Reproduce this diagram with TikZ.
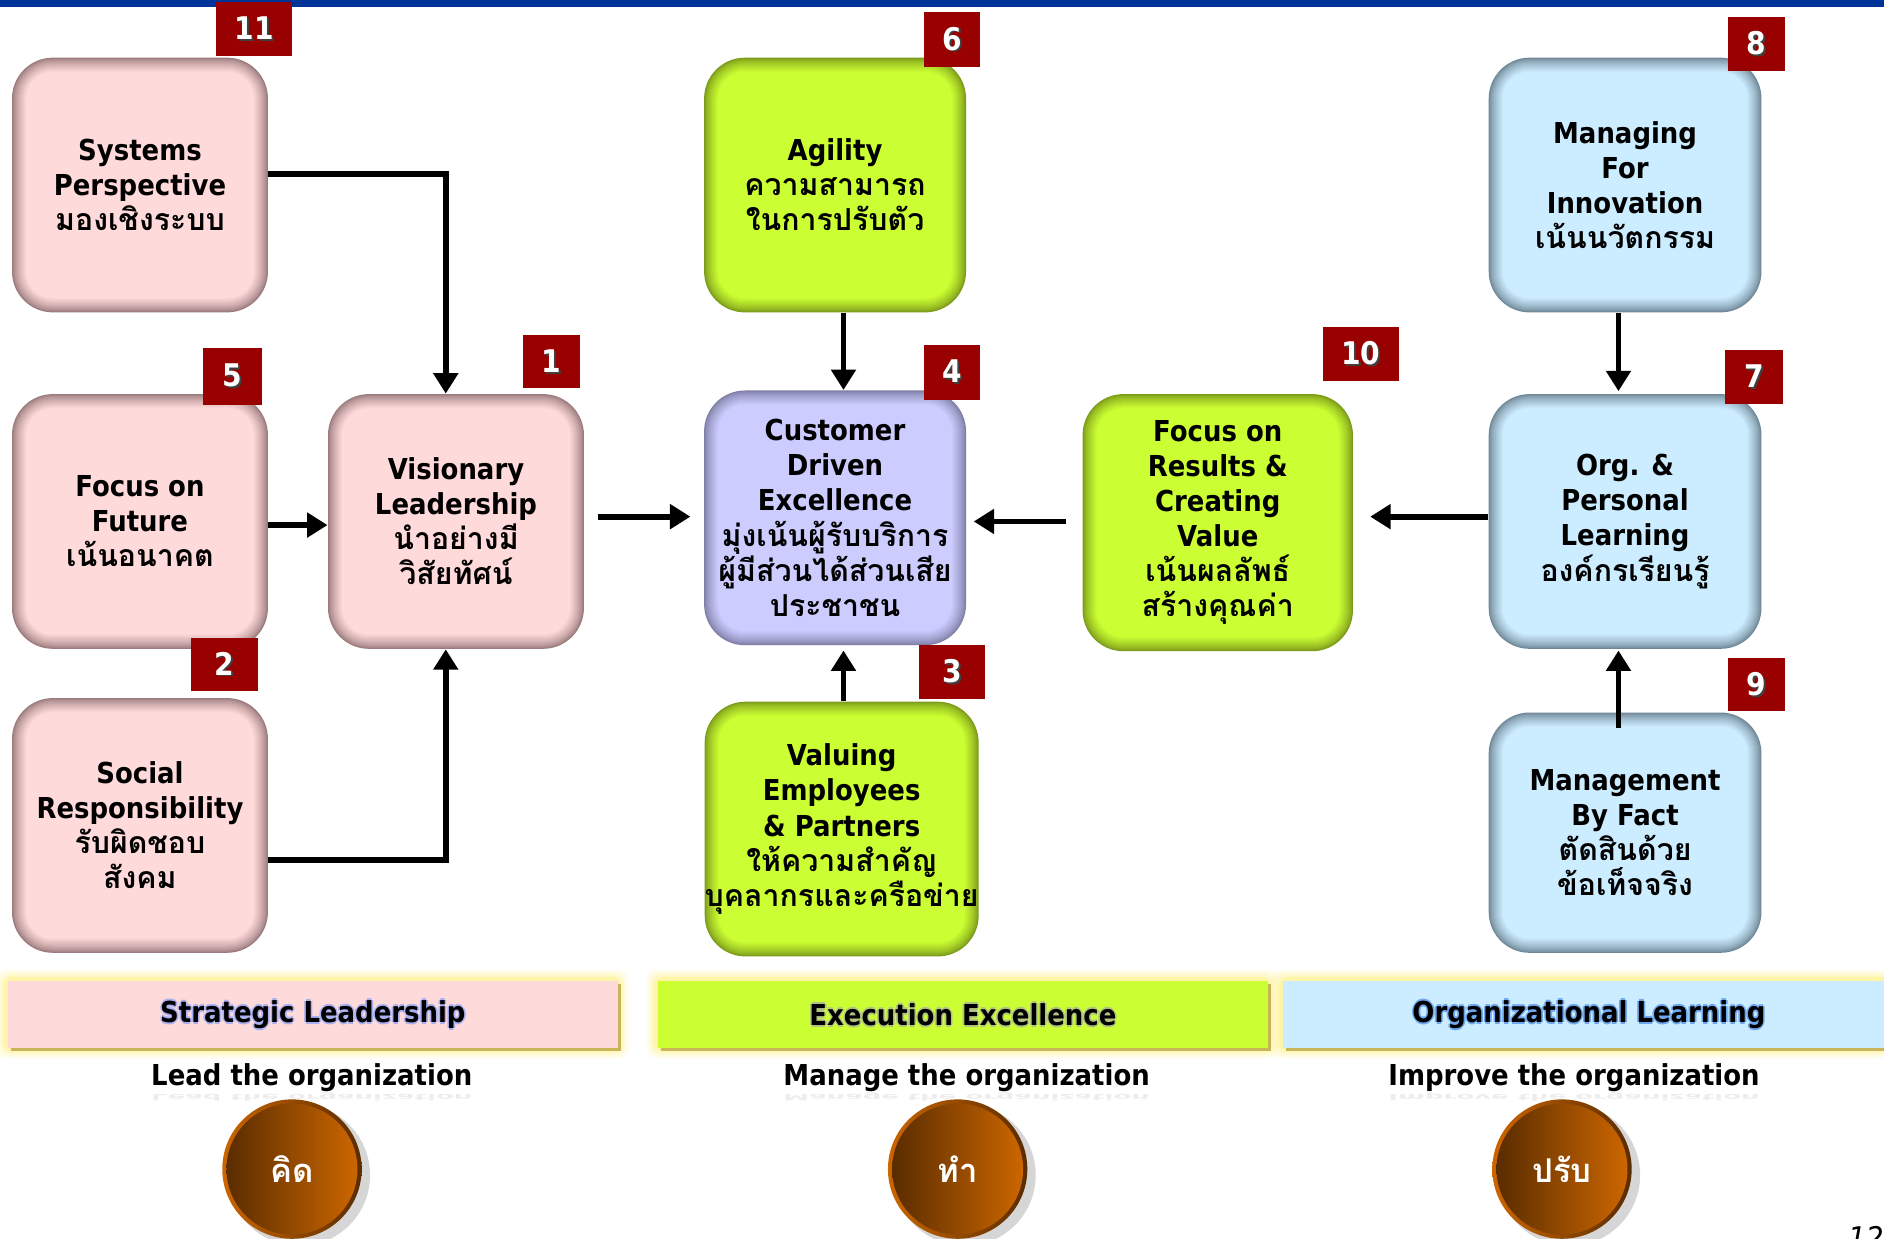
\documentclass[tikz,border=0pt]{standalone}
\usepackage{fontspec}
\setmainfont{DejaVu Sans}[FakeStretch=0.9]
\newfontfamily\thaifont[Script=Thai,Scale=1.05]{Loma}
\usetikzlibrary{arrows.meta,calc}

\definecolor{topbar}{HTML}{003399}
\definecolor{pinkf}{HTML}{FFDADA}
\definecolor{pinke}{HTML}{9A7A7C}
\definecolor{greenf}{HTML}{CCFF33}
\definecolor{greene}{HTML}{7C9A1A}
\definecolor{lavf}{HTML}{CCCCFF}
\definecolor{lave}{HTML}{7E7EA6}
\definecolor{bluef}{HTML}{CCECFF}
\definecolor{bluee}{HTML}{6F8796}
\definecolor{badgered}{HTML}{990000}
\definecolor{glowy}{HTML}{FFF06A}
\definecolor{goldline}{HTML}{C9B458}
\definecolor{brownd}{HTML}{5A2C00}
\definecolor{browno}{HTML}{CC6600}
\definecolor{halolav}{HTML}{A9B0F0}
\definecolor{haloolive}{HTML}{7E9A30}
\definecolor{haloblue}{HTML}{6FA8F0}

% Thai text line
\newcommand\thl[1]{{\thaifont #1}}
% text with a soft coloured halo
\newcommand\haloed[2]{\leavevmode
  \rlap{\kern-0.7pt\textcolor{#1}{#2}}\rlap{\kern0.7pt\textcolor{#1}{#2}}%
  \rlap{\raisebox{0.7pt}{\textcolor{#1}{#2}}}\rlap{\raisebox{-0.7pt}{\textcolor{#1}{#2}}}#2}
% white number with a dark drop shadow
\newcommand\shnum[1]{\leavevmode\rlap{\kern0.8pt\raisebox{-0.8pt}{\textcolor{black!75}{#1}}}#1}
% soft inner bevel of a rounded card
\newcommand\cardbevel[2]{%
  \foreach \bi in {1,...,14}{%
    \pgfmathtruncatemacro\bvt{100*(\bi/14)^0.75}%
    \pgfmathsetmacro\bvr{max(17-\bi*0.42,2)}%
    \pgfmathsetmacro\bvd{\bi*0.42}%
    \fill[#1!\bvt!#2, rounded corners=\bvr pt]
      ([shift={(\bvd pt,\bvd pt)}]path picture bounding box.south west) rectangle
      ([shift={(-\bvd pt,-\bvd pt)}]path picture bounding box.north east);
  }}

\tikzset{
  wh/.style 2 args={minimum width=#1*0.5pt, minimum height=#2*0.5pt},
  card/.style 2 args={rectangle, inner sep=0pt, rounded corners=17pt, fill=#2,
    path picture={\cardbevel{#1}{#2}},
    font=\bfseries\fontsize{12}{14.6}\selectfont, align=center, text=black},
  pinkcard/.style={card={pinkf}{pinke}},
  greencard/.style={card={greenf}{greene}},
  lavcard/.style={card={lavf}{lave}},
  bluecard/.style={card={bluef}{bluee}},
  badge/.style 2 args={rectangle, fill=badgered, inner sep=0pt, wh={#1}{#2},
    text=white, font=\bfseries\fontsize{13}{13}\selectfont},
  arr/.style={line width=2.4pt, line join=miter,
    -{Triangle[length=8.5pt,width=10pt]}},
  bandbox/.style={rectangle, inner sep=0pt, wh={#1}{56},
    font=\bfseries\fontsize{12}{14}\selectfont, text=black},
  subtitle/.style={font=\bfseries\fontsize{12}{14}\selectfont, text=black, inner sep=0pt},
  coin/.style={circle, inner sep=0pt, text=white,
    font=\bfseries\fontsize{13}{14}\selectfont}
}

\begin{document}
\begin{tikzpicture}[x=0.5pt,y=-0.5pt]
\useasboundingbox (0,0) rectangle (1568,1031);
\fill[white] (0,0) rectangle (1568,1031);
\fill[topbar] (0,0) rectangle (1568,6);

% ---------- cards ----------
\node[pinkcard, wh={213}{212}] (sys) at (116.5,154) {Systems\\Perspective\\\thl{มองเชิงระบบ}};
\node[pinkcard, wh={213}{212}] (fut) at (116.5,434) {Focus on\\Future\\\thl{เน้นอนาคต}};
\node[pinkcard, wh={213}{212}] (soc) at (116.5,687) {Social\\Responsibility\\\thl{รับผิดชอบ}\\\thl{สังคม}};
\node[pinkcard, wh={213}{212}] (vis) at (379.5,434) {Visionary\\Leadership\\\thl{นำอย่างมี}\\\thl{วิสัยทัศน์}};

\node[greencard, wh={218}{212}] (agi) at (695,154) {Agility\\\thl{ความสามารถ}\\\thl{ในการปรับตัว}};
\node[lavcard, wh={218}{212}] (cust) at (695,431) {Customer\\Driven\\Excellence\\\thl{มุ่งเน้นผู้รับบริการ}\\\thl{ผู้มีส่วนได้ส่วนเสีย}\\\thl{ประชาชน}};
\node[greencard, wh={223}{212}] (val) at (700.5,690) {Valuing\\Employees\\\&~Partners\\\thl{ให้ความสำคัญ}\\\thl{บุคลากรและครือข่าย}};
\node[greencard, wh={225}{214}] (res) at (1013.5,435) {Focus on\\Results \&\\Creating\\Value\\\thl{เน้นผลลัพธ์}\\\thl{สร้างคุณค่า}};

\node[bluecard, wh={227}{212}] (inn) at (1352.5,154) {Managing\\For\\Innovation\\\thl{เน้นนวัตกรรม}};
\node[bluecard, wh={227}{212}] (org) at (1352.5,434) {Org. \&\\Personal\\Learning\\\thl{องค์กรเรียนรู้}};
\node[bluecard, wh={227}{200}] (fact) at (1352.5,693) {Management\\By Fact\\\thl{ตัดสินด้วย}\\\thl{ข้อเท็จจริง}};

% ---------- connectors ----------
\draw[arr] ($(sys.east)+(0,4.5pt)$) -| ($(vis.north)+(-4.25pt,0)$);
\draw[arr] ($(soc.east)+(0,-14.5pt)$) -| ($(vis.south)+(-4.25pt,0)$);
\draw[arr] ($(fut.east)+(0,-1.5pt)$) -- ($(fut.east -| vis.west)+(0,-1.5pt)$);
\draw[arr] ($(vis.east)+(5.5pt,2pt)$) -- ($(vis.east -| cust.west)+(-5.5pt,2pt)$);
\draw[arr] ($(agi.south)+(3.5pt,0)$) -- ($(cust.north)+(3.5pt,0)$);
\draw[arr] ($(val.north)+(0.75pt,0)$) -- ($(cust.south)+(3.5pt,-2pt)$);
\draw[arr] ($(res.west)+(-6.5pt,0.5pt)$) -- ($(res.west -| cust.east)+(3pt,0.5pt)$);
\draw[arr] ($(org.west)+(0,2pt)$) -- ($(org.west -| res.east)+(7pt,2pt)$);
\draw[arr] ($(inn.south)+(-2.75pt,0)$) -- ($(org.north)+(-2.75pt,1pt)$);
\draw[arr] ($(fact.north)+(-2.75pt,-6.5pt)$) -- ($(org.south)+(-2.75pt,-0.5pt)$);

% ---------- number badges ----------
\node[badge={63}{45}] (n11) at (211.5,24.5) {\shnum{11}};
\node[badge={49}{47}] (n5) at (193.5,313.5) {\shnum{5}};
\node[badge={56}{44}] (n2) at (187,553) {\shnum{2}};
\node[badge={48}{44}] (n1) at (459,301) {\shnum{1}};
\node[badge={47}{46}] (n6) at (792.5,33) {\shnum{6}};
\node[badge={47}{46}] (n4) at (792.5,310) {\shnum{4}};
\node[badge={55}{45}] (n3) at (792.5,559.5) {\shnum{3}};
\node[badge={63}{45}] (n10) at (1132.5,294.5) {\shnum{10}};
\node[badge={48}{45}] (n8) at (1462,36.5) {\shnum{8}};
\node[badge={48}{45}] (n7) at (1460,313.5) {\shnum{7}};
\node[badge={48}{44}] (n9) at (1462,570) {\shnum{9}};

% ---------- category bands ----------
\foreach \bx/\bw in {6/508, 547/508, 1067/510}{
  \foreach \gl/\op in {9/0.10, 7/0.14, 5/0.2, 3/0.3}{
    \fill[glowy, opacity=\op, rounded corners=4pt]
      (\bx-\gl, 816-\gl) rectangle (\bx+\bw+\gl, 872+\gl);
  }
  \fill[goldline] (\bx+3, 819) rectangle (\bx+\bw+3, 875);
}
\node[bandbox=508, anchor=north west, fill=pinkf] (band1) at (6,816) {\haloed{halolav}{Strategic Leadership}};
\node[bandbox=508, anchor=north west, fill=greenf] (band2) at (547,816) {\haloed{haloolive!60}{Execution Excellence}};
\node[bandbox=510, anchor=north west, fill=bluef] (band3) at (1067,816) {\haloed{haloblue}{Organizational Learning}};

% ---------- subtitles with faint reflections ----------
\node[subtitle] (sub1) at (259.5,897) {Lead the organization};
\node[subtitle] (sub2) at (804.5,897) {Manage the organization};
\node[subtitle] (sub3) at (1310,897) {Improve the organization};
\begin{scope}[shift={(259.5,913)}]
  \node[subtitle, yscale=-0.3, transform shape, opacity=0.07] (ref1) at (0,0) {Lead the organization};
\end{scope}
\begin{scope}[shift={(804.5,913)}]
  \node[subtitle, yscale=-0.3, transform shape, opacity=0.07] (ref2) at (0,0) {Manage the organization};
\end{scope}
\begin{scope}[shift={(1310,913)}]
  \node[subtitle, yscale=-0.3, transform shape, opacity=0.07] (ref3) at (0,0) {Improve the organization};
\end{scope}

% ---------- coins ----------
\foreach \cx in {243, 797, 1300}{
  \fill[black!16] (\cx+6,978) circle (29.5pt);
}
\node[coin, minimum size=58pt, left color=browno, right color=brownd] (ring1) at (243,973) {};
\node[coin, minimum size=54.5pt, left color=brownd, right color=browno] (coin1) at (243,973) {\thl{คิด}};
\node[coin, minimum size=58pt, left color=browno, right color=brownd] (ring2) at (797,973) {};
\node[coin, minimum size=54.5pt, left color=brownd, right color=browno] (coin2) at (797,973) {\thl{ทำ}};
\node[coin, minimum size=58pt, left color=browno, right color=brownd] (ring3) at (1300,973) {};
\node[coin, minimum size=54.5pt, left color=brownd, right color=browno] (coin3) at (1300,973) {\thl{ปรับ}};

% ---------- page number ----------
\node[anchor=north, inner sep=0pt, font=\itshape\fontsize{13}{13}\selectfont] (pageno) at (1553,1020) {12};
\end{tikzpicture}
\end{document}
